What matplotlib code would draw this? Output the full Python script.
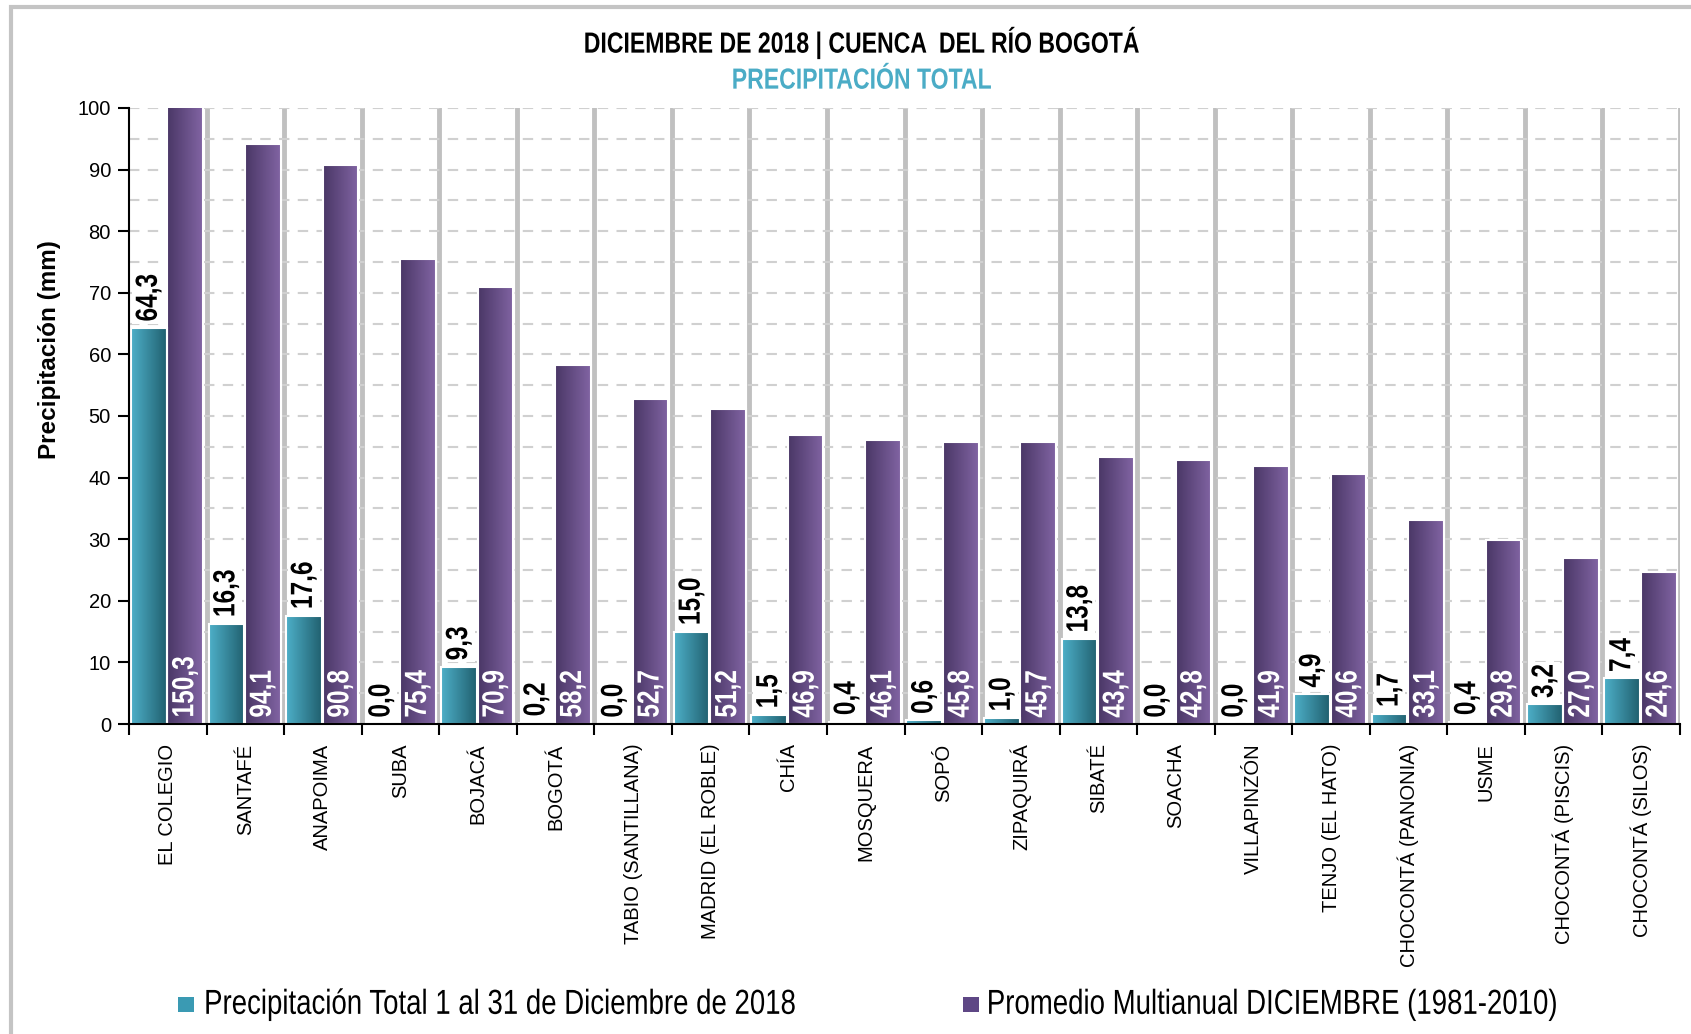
import numpy as np
import matplotlib
matplotlib.use("Agg")
import matplotlib.pyplot as plt
from matplotlib.patches import Rectangle
from matplotlib.colors import LinearSegmentedColormap
from matplotlib.ticker import MultipleLocator, FixedLocator
from matplotlib.patheffects import AbstractPathEffect
from matplotlib.transforms import Affine2D
from matplotlib.path import Path

estaciones = ["EL COLEGIO", "SANTAFÉ", "ANAPOIMA", "SUBA", "BOJACÁ", "BOGOTÁ",
              "TABIO (SANTILLANA)", "MADRID (EL ROBLE)", "CHÍA", "MOSQUERA", "SOPÓ",
              "ZIPAQUIRÁ", "SIBATÉ", "SOACHA", "VILLAPINZÓN", "TENJO (EL HATO)",
              "CHOCONTÁ (PANONIA)", "USME", "CHOCONTÁ (PISCIS)", "CHOCONTÁ (SILOS)"]
total_dic = [64.3, 16.3, 17.6, 0.0, 9.3, 0.2, 0.0, 15.0, 1.5, 0.4, 0.6, 1.0,
             13.8, 0.0, 0.0, 4.9, 1.7, 0.4, 3.2, 7.4]
promedio_dic = [150.3, 94.1, 90.8, 75.4, 70.9, 58.2, 52.7, 51.2, 46.9, 46.1, 45.8,
                45.7, 43.4, 42.8, 41.9, 40.6, 33.1, 29.8, 27.0, 24.6]
series = ["Precipitación Total 1 al 31 de Diciembre de 2018",
          "Promedio Multianual DICIEMBRE (1981-2010)"]

REG = ["Liberation Sans", "DejaVu Sans"]

teal_cm = LinearSegmentedColormap.from_list("teal", ["#4dafc8", "#21606f"])
purp_cm = LinearSegmentedColormap.from_list("purp", ["#4a3766", "#8164a3"])


# no narrow font installed -> squeeze glyphs horizontally (Arial Narrow look)
class Narrow(AbstractPathEffect):
    def __init__(self, sx=0.82, anchor=0.0, bg=None, pad=3):
        super().__init__()
        self.sx = sx
        self.anchor = anchor
        self.bg = bg
        self.pad = pad

    def draw_path(self, renderer, gc, tpath, affine, rgbFace=None):
        ext = tpath.get_extents()
        cx = ext.x0 + self.anchor * ext.width
        t = Affine2D().translate(-cx, 0).scale(self.sx, 1).translate(cx, 0)
        if self.bg is not None:
            e = tpath.transformed(t + affine).get_extents()
            p = self.pad
            box = Path([[e.x0 - p, e.y0 - p], [e.x1 + p, e.y0 - p], [e.x1 + p, e.y1 + p],
                        [e.x0 - p, e.y1 + p], [e.x0 - p, e.y0 - p]], closed=True)
            gc0 = renderer.new_gc()
            gc0.copy_properties(gc)
            gc0.set_linewidth(0)
            renderer.draw_path(gc0, box, Affine2D(), self.bg)
            gc0.restore()
        renderer.draw_path(gc, tpath, t + affine, rgbFace)


def fmt(v):
    return f"{v:.1f}".replace(".", ",")


def gradient_fill(ax, bars, cmap, ytop):
    grad = np.linspace(0, 1, 64).reshape(1, -1)
    for b in bars:
        x0, y0 = b.get_x(), b.get_y()
        w, h = b.get_width(), b.get_height()
        if h <= 0:
            continue
        top = min(y0 + h, ytop)
        im = ax.imshow(grad, cmap=cmap, aspect="auto", extent=(x0, x0 + w, y0, top),
                       zorder=b.get_zorder() + 0.1, interpolation="bilinear")
        clip = Rectangle((x0, y0), w, top - y0, transform=ax.transData)
        im.set_clip_path(clip)
        ax.add_patch(Rectangle((x0, y0), w, h, fill=False, edgecolor="white",
                               lw=1.5, zorder=b.get_zorder() + 0.2))


fig = plt.figure(figsize=(16.91, 10.34), dpi=100)
ax = fig.add_axes([0.0763, 0.2998, 0.9172, 0.5958])

n = len(estaciones)
x = np.arange(n)
w = 0.46
b1 = ax.bar(x + 0.255, total_dic, width=w, color="#3a8ea4", zorder=3)
b2 = ax.bar(x + 0.725, promedio_dic, width=w, color="#604a80", zorder=3)

ax.set_ylim(0, 100)
ax.set_xlim(0, n)
gradient_fill(ax, b1, teal_cm, 100)
gradient_fill(ax, b2, purp_cm, 100)

# grids
ax.yaxis.set_major_locator(MultipleLocator(10))
ax.yaxis.set_minor_locator(MultipleLocator(5))
ax.grid(axis="y", which="both", color="#d0d0d0", linestyle=(0, (5, 4)), lw=1.5, zorder=0)
for xv in range(1, n + 1):
    ax.axvline(xv, color="#c0c0c0", lw=3.5, zorder=1)

ax.set_xticks(np.arange(n + 1))
ax.set_xticklabels([])
ax.xaxis.set_minor_locator(FixedLocator(x + 0.5))
ax.set_xticklabels(estaciones, minor=True, rotation=90, ha="center", va="top",
                   fontsize=14.5, family=REG)
ax.tick_params(axis="x", which="major", direction="out", length=8, width=1.5)
ax.tick_params(axis="x", which="minor", length=0, pad=14)
ax.tick_params(axis="y", which="major", direction="out", length=8, width=1.5,
               labelsize=14.5, pad=5)
ax.tick_params(axis="y", which="minor", length=0)
for lab in ax.get_yticklabels():
    lab.set_family(REG)

for s in ["top", "right"]:
    ax.spines[s].set_visible(False)
for s in ["left", "bottom"]:
    ax.spines[s].set_linewidth(1.5)
    ax.spines[s].set_zorder(5)

ax.set_ylabel("Precipitación (mm)", fontsize=17.5, fontweight="bold", family=REG)
ax.yaxis.set_label_coords(-0.044, 0.607)

# value labels
for b, v in zip(b1, total_dic):
    ax.text(b.get_x() + b.get_width() / 2, v + 1.0, fmt(v), rotation=90,
            ha="center", va="bottom", fontsize=22, fontweight="bold", family=REG,
            color="black", zorder=6, path_effects=[Narrow(0.8, bg=(1, 1, 1, 1), pad=3)])
for b, v in zip(b2, promedio_dic):
    ax.text(b.get_x() + b.get_width() / 2, 1.0, fmt(v), rotation=90,
            ha="center", va="bottom", fontsize=22, fontweight="bold", family=REG,
            color="white", zorder=6, path_effects=[Narrow(0.8)])

fig.text(0.5096, 0.959, "DICIEMBRE DE 2018 | CUENCA  DEL RÍO BOGOTÁ", ha="center",
         va="center", fontsize=21, fontweight="bold", family=REG, color="black",
         path_effects=[Narrow(0.79, 0.5)])
fig.text(0.5096, 0.922, "PRECIPITACIÓN TOTAL", ha="center", va="center", fontsize=21,
         fontweight="bold", family=REG, color="#4bacc6",
         path_effects=[Narrow(0.79, 0.5)])

# legend (drawn by hand so the squeezed text keeps a tight layout box)
leg_marker_x = [0.1053, 0.5695]
leg_text_x = [0.296, 0.7525]
leg_colors = ["#3a9ab3", "#5e4785"]
for mx, tx, col, lab in zip(leg_marker_x, leg_text_x, leg_colors, series):
    fig.patches.append(Rectangle((mx, 0.0213), 0.0095, 0.0145, facecolor=col,
                                 edgecolor="none", transform=fig.transFigure))
    fig.text(tx, 0.0195, lab, ha="center", va="baseline", fontsize=25, family=REG,
             color="black", path_effects=[Narrow(0.795, 0.5)])

# outer frame
fig.patches.append(Rectangle((11 / 1691, -0.1), 1.2, 1.1 - 7 / 1034, fill=False,
                             edgecolor="#c4c4c4", lw=3, transform=fig.transFigure))

fig.savefig("out.png", dpi=100)
